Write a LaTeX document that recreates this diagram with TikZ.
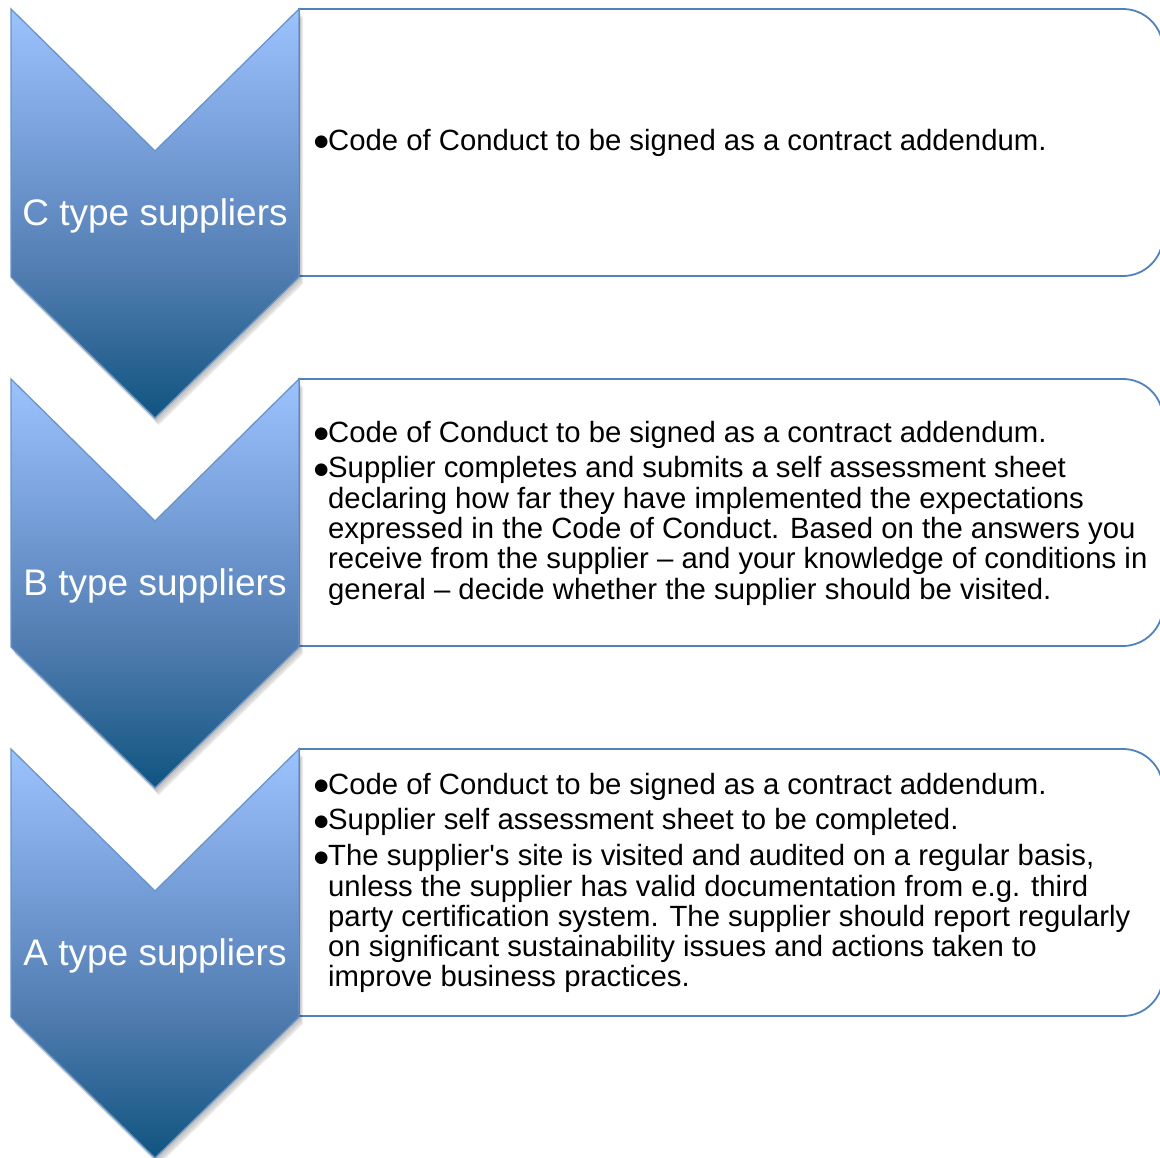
\documentclass[tikz,border=0pt]{standalone}
\usepackage{fontspec}
\setmainfont{Liberation Sans}
\newfontfamily\bulfont{DejaVu Sans}
\definecolor{chevtop}{RGB}{157,195,255}
\definecolor{chevmidA}{RGB}{120,160,218}
\definecolor{chevmidB}{RGB}{80,124,176}
\definecolor{chevbot}{RGB}{16,84,128}
\definecolor{edgeblue}{RGB}{79,129,189}
\pgfdeclareverticalshading{chevshade}{100bp}{color(0bp)=(chevbot); color(25bp)=(chevbot); color(42.5bp)=(chevmidB); color(59bp)=(chevmidA); color(75bp)=(chevtop); color(100bp)=(chevtop)}
\newcommand{\bul}{\makebox[14bp][l]{\raisebox{3.2bp}{\bulfont\fontsize{16.5bp}{16.5bp}\selectfont ●}}}
\newcommand{\ind}{\hspace*{14bp}}
\tikzset{
  chevron/.style={shading=chevshade, draw=edgeblue!85!white, line width=1.3bp, line join=miter},
  chevshadow/.style={fill=black, opacity=0.07, draw=none},
  infobox/.style={fill=white, draw=edgeblue, line width=1.8bp},
  chevlabel/.style={text=white, font=\fontsize{37bp}{40bp}\selectfont, inner sep=0},
  boxtext/.style={anchor=west, inner sep=0, align=left, text=black, font=\fontsize{29.3bp}{30.3bp}\selectfont}
}
\newcommand{\infobox}[1]{%
  \draw[infobox] (299,#1) -- (1123,#1) .. controls (1145,#1) and (1163,#1+18) .. (1163,#1+40)
    -- (1163,#1+227) .. controls (1163,#1+249) and (1145,#1+267) .. (1123,#1+267) -- (299,#1+267) -- cycle;}
\newcommand{\chevpath}[1]{(11,#1) -- (155,#1+142) -- (299,#1) -- (299,#1+268) -- (155,#1+409) -- (11,#1+268) -- cycle}
\newcommand{\chev}[1]{%
  \foreach \dx/\dy in {1/2,2/4,3/6,4/7}{\fill[chevshadow, shift={(\dx,\dy)}] \chevpath{#1};}
  \path[chevron] \chevpath{#1};}
\begin{document}
\begin{tikzpicture}[x=1bp,y=-1bp]
\useasboundingbox (0,0) rectangle (1160,1158);
\clip (0,0) rectangle (1160,1158);
% boxes
\infobox{9}
\infobox{379}
\infobox{749}
% chevrons
\chev{9}
\chev{379}
\chev{749}
% chevron labels
\node[chevlabel] (labC) at (155,216) {C type suppliers};
\node[chevlabel] (labB) at (155,586) {B type suppliers};
\node[chevlabel] (labA) at (155,956) {A type suppliers};
% box texts
\node[boxtext] (txtC) at (314,142.5) {\bul Code of Conduct to be signed as a contract addendum.};
\node[boxtext] (txtB) at (314,513) {\bul Code of Conduct to be signed as a contract addendum.\\[5.5bp]
\bul Supplier completes and submits a self assessment sheet\\
\ind declaring how far they have implemented the expectations\\
\ind expressed in the Code of Conduct. Based on the answers you\\
\ind receive from the supplier – and your knowledge of conditions in\\
\ind general – decide whether the supplier should be visited.};
\node[boxtext] (txtA) at (314,883) {\bul Code of Conduct to be signed as a contract addendum.\\[5.5bp]
\bul Supplier self assessment sheet to be completed.\\[5.5bp]
\bul The supplier\textquotesingle s site is visited and audited on a regular basis,\\
\ind unless the supplier has valid documentation from e.g. third\\
\ind party certification system. The supplier should report regularly\\
\ind on significant sustainability issues and actions taken to\\
\ind improve business practices.};
\end{tikzpicture}
\end{document}
